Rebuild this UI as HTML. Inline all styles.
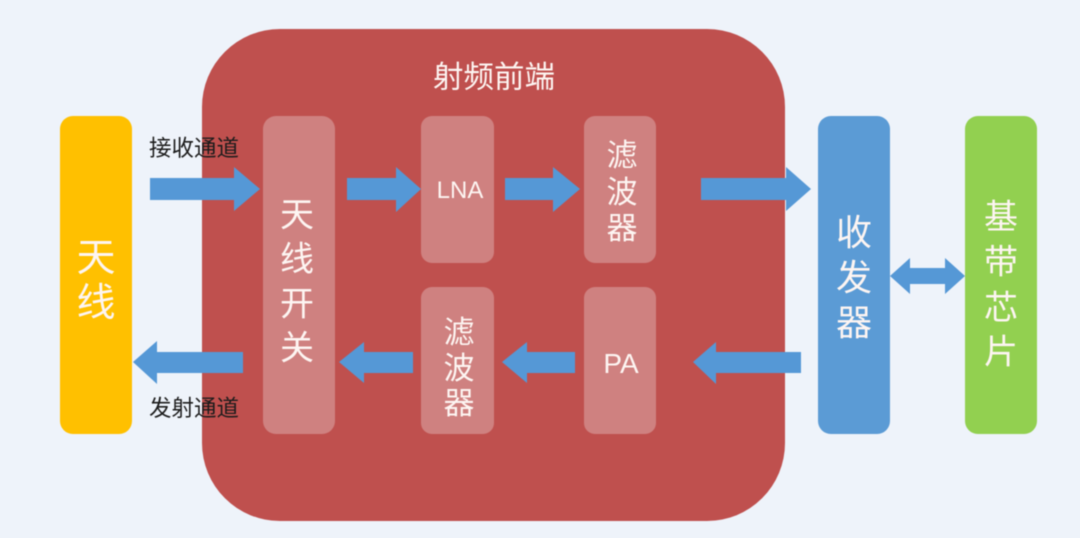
<!DOCTYPE html>
<html>
<head>
<meta charset="utf-8">
<style>
html,body{margin:0;padding:0;background:#eef3fa;width:1080px;height:538px;overflow:hidden}
svg{display:block;filter:blur(.6px)}
text{font-family:"Liberation Sans","Noto Sans CJK SC",sans-serif;fill:#fdf5f2;text-anchor:middle;dominant-baseline:central}
</style>
</head>
<body>
<svg width="1080" height="538" viewBox="0 0 1080 538" xmlns="http://www.w3.org/2000/svg">
<rect width="1080" height="538" fill="#eef3fa"/>
<rect x="202" y="29" width="583" height="492" rx="78" fill="#bf504e"/>
<rect x="60" y="116" width="72" height="318" rx="13" fill="#ffc000"/>
<rect x="818" y="116" width="72" height="318" rx="13" fill="#5b9bd5"/>
<rect x="965" y="116" width="72" height="318" rx="13" fill="#92d050"/>
<g fill="#cf8180">
<rect x="263" y="116" width="72" height="318" rx="13"/>
<rect x="421" y="116" width="73" height="147" rx="11"/>
<rect x="584" y="116" width="72" height="147" rx="11"/>
<rect x="421" y="287" width="73" height="147" rx="11"/>
<rect x="584" y="287" width="72" height="147" rx="11"/>
</g>
<g fill="#5598d6">
<polygon points="150,178 234,178 234,167 260,189 234,211 234,200 150,200"/>
<polygon points="347,178 396,178 396,167 421,189 396,212 396,200 347,200"/>
<polygon points="505,178 553,178 553,167 580,189 553,212 553,200 505,200"/>
<polygon points="701,178 786,178 786,167 811,189 786,211 786,200 701,200"/>
<polygon points="133,362 157,341 157,352 243,352 243,373 157,373 157,384"/>
<polygon points="339,362 364,342 364,352 413,352 413,373 364,373 364,383"/>
<polygon points="502,362 527,342 527,352 575,352 575,373 527,373 527,383"/>
<polygon points="693,362 716,342 716,352 801,352 801,373 716,373 716,384"/>
<polygon points="890,276 910,258 910,268 945,268 945,258 965,276 945,294 945,284 910,284 910,294"/>
</g>
<g transform="translate(0,1.5)">
<g font-size="39">
<text x="96" y="257">天</text>
<text x="96" y="302">线</text>
</g>
<g font-size="34">
<text x="297" y="214">天</text>
<text x="297" y="258">线</text>
<text x="297" y="303">开</text>
<text x="297" y="347">关</text>
</g>
<g font-size="36">
<text x="854" y="231">收</text>
<text x="854" y="276">发</text>
<text x="854" y="321">器</text>
</g>
<g font-size="34">
<text x="1001" y="216">基</text>
<text x="1001" y="261">带</text>
<text x="1001" y="307">芯</text>
<text x="1001" y="351">片</text>
</g>
<g font-size="31">
<text x="622" y="154">滤</text>
<text x="622" y="191">波</text>
<text x="622" y="227">器</text>
<text x="459" y="331">滤</text>
<text x="459" y="367">波</text>
<text x="459" y="402">器</text>
</g>
<text x="460" y="189" font-size="24">LNA</text>
<text x="621" y="362" font-size="28">PA</text>
<text x="494" y="76" font-size="30.5">射频前端</text>
<text x="194" y="147" font-size="22.5" style="fill:#1c1c1c">接收通道</text>
<text x="194" y="407" font-size="22.5" style="fill:#1c1c1c">发射通道</text>
</g>
</svg>
</body>
</html>
